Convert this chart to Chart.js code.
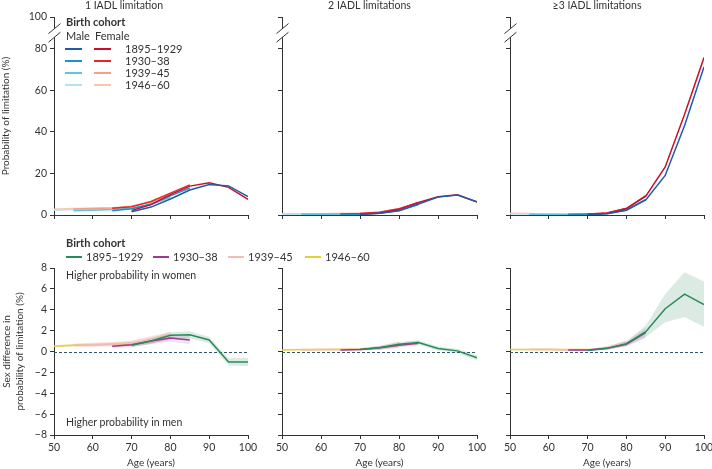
<!DOCTYPE html>
<html><head><meta charset="utf-8">
<script src="https://cdn.jsdelivr.net/npm/chart.js@4.4.1/dist/chart.umd.min.js"></script>
<style>
body{margin:0;background:#fff;width:712px;height:469px;overflow:hidden;position:relative;font-family:Lato,'Open Sans',sans-serif;color:#333}
canvas{position:absolute}
.t{position:absolute;font-size:10px;white-space:nowrap;line-height:12px;color:#333}
.b{font-weight:bold;font-size:11px}
.ln{position:absolute;height:2px}
</style></head><body>
<canvas id="c1" width="262" height="225" style="left:0;top:0"></canvas>
<canvas id="c2" width="229" height="225" style="left:262px;top:0"></canvas>
<canvas id="c3" width="228" height="225" style="left:490px;top:0"></canvas>
<canvas id="c4" width="262" height="209" style="left:0;top:260px"></canvas>
<canvas id="c5" width="229" height="209" style="left:262px;top:260px"></canvas>
<canvas id="c6" width="228" height="209" style="left:490px;top:260px"></canvas>
<div class="t" style="left:66px;top:269px;font-size:10.5px">Higher probability in women</div>
<div class="t" style="left:66px;top:416px;font-size:10.5px">Higher probability in men</div>
<script>
// ---------- labels ----------
const ages = [50,55,60,65,70,75,80,85,90,95,100];
const cohorts = ['1895–1929','1930–38','1939–45','1946–60'];
const xTicks = [50,60,70,80,90,100];
const topYTicks = [0,20,40,60,80,100];
const bottomYTicks = [-8,-6,-4,-2,0,2,4,6,8];
const panelTitles = ['1 IADL limitation','2 IADL limitations','≥3 IADL limitations'];

// ---------- top row: probability of limitation (%) ----------
// 1 IADL limitation
const one_m1895 = [null,null,null,null,1.6,3.8,7.7,12.0,14.7,14.0,8.8];
const one_f1895 = [null,null,null,null,2.2,5.0,9.8,13.9,15.5,13.3,7.5];
const one_m1930 = [null,null,null,2.0,3.0,5.3,9.2,13.0,null,null,null];
const one_f1930 = [null,null,null,3.2,4.0,6.5,10.5,14.5,null,null,null];
const one_m1939 = [null,2.0,2.3,2.6,3.2,5.0,8.5,null,null,null,null];
const one_f1939 = [null,2.9,3.1,3.4,4.2,6.2,9.8,null,null,null,null];
const one_m1946 = [2.3,2.6,2.8,3.0,3.3,null,null,null,null,null,null];
const one_f1946 = [2.8,3.1,3.2,3.4,3.8,null,null,null,null,null,null];
// 2 IADL limitations
const two_m1895 = [null,null,null,null,0.4,0.8,2.0,5.3,8.6,9.6,6.4];
const two_f1895 = [null,null,null,null,0.5,1.0,2.7,6.0,8.8,9.7,6.2];
const two_m1930 = [null,null,null,0.3,0.4,0.9,2.2,5.0,null,null,null];
const two_f1930 = [null,null,null,0.5,0.7,1.3,3.0,6.0,null,null,null];
const two_m1939 = [null,0.4,0.4,0.4,0.5,0.9,2.3,null,null,null,null];
const two_f1939 = [null,0.6,0.6,0.7,0.8,1.3,3.0,null,null,null,null];
const two_m1946 = [0.4,0.4,0.4,0.4,0.5,null,null,null,null,null,null];
const two_f1946 = [0.6,0.6,0.6,0.6,0.7,null,null,null,null,null,null];
// >=3 IADL limitations
const three_m1895 = [null,null,null,null,0.2,0.6,2.3,7.2,19.0,43.0,71.2];
const three_f1895 = [null,null,null,null,0.3,0.9,3.1,9.1,23.1,48.5,75.7];
const three_m1930 = [null,null,null,0.2,0.3,0.7,2.4,7.5,null,null,null];
const three_f1930 = [null,null,null,0.3,0.5,1.0,3.1,9.3,null,null,null];
const three_m1939 = [null,0.3,0.2,0.2,0.3,0.7,2.4,null,null,null,null];
const three_f1939 = [null,0.4,0.3,0.3,0.4,1.0,3.2,null,null,null,null];
const three_m1946 = [0.6,0.5,0.3,0.2,0.2,null,null,null,null,null,null];
const three_f1946 = [0.8,0.7,0.5,0.4,0.4,null,null,null,null,null,null];

// ---------- bottom row: sex difference (%) with 95% CI ----------
// 1 IADL
const d1_1895 = [null,null,null,null,0.6,1.0,1.55,1.6,1.1,-1.0,-1.0];
const d1_1895lo = [null,null,null,null,0.4,0.75,1.25,1.25,0.8,-1.35,-1.4];
const d1_1895hi = [null,null,null,null,0.8,1.25,1.85,1.95,1.4,-0.65,-0.6];
const d1_1930 = [null,null,null,0.5,0.65,1.0,1.3,1.1,null,null,null];
const d1_1930lo = [null,null,null,0.3,0.4,0.7,0.95,0.7,null,null,null];
const d1_1930hi = [null,null,null,0.7,0.9,1.3,1.65,1.5,null,null,null];
const d1_1939 = [null,0.6,0.65,0.7,0.8,1.1,1.5,null,null,null,null];
const d1_1939lo = [null,0.45,0.45,0.5,0.55,0.75,1.1,null,null,null,null];
const d1_1939hi = [null,0.75,0.85,0.9,1.05,1.45,1.9,null,null,null,null];
const d1_1946 = [0.5,0.6,0.65,0.7,0.75,null,null,null,null,null,null];
const d1_1946lo = [0.4,0.48,0.53,0.55,0.55,null,null,null,null,null,null];
const d1_1946hi = [0.6,0.72,0.77,0.85,0.95,null,null,null,null,null,null];
// 2 IADL
const d2_1895 = [null,null,null,null,0.2,0.35,0.7,0.86,0.29,0.06,-0.6];
const d2_1895lo = [null,null,null,null,0.1,0.2,0.5,0.65,0.1,-0.15,-0.85];
const d2_1895hi = [null,null,null,null,0.3,0.5,0.9,1.07,0.48,0.27,-0.35];
const d2_1930 = [null,null,null,0.15,0.2,0.35,0.6,0.8,null,null,null];
const d2_1930lo = [null,null,null,0.08,0.1,0.2,0.4,0.55,null,null,null];
const d2_1930hi = [null,null,null,0.22,0.3,0.5,0.8,1.05,null,null,null];
const d2_1939 = [null,0.15,0.18,0.2,0.22,0.35,0.65,null,null,null,null];
const d2_1939lo = [null,0.08,0.1,0.12,0.12,0.15,0.35,null,null,null,null];
const d2_1939hi = [null,0.22,0.26,0.28,0.32,0.55,0.95,null,null,null,null];
const d2_1946 = [0.15,0.18,0.2,0.2,0.22,null,null,null,null,null,null];
const d2_1946lo = [0.1,0.13,0.15,0.15,0.15,null,null,null,null,null,null];
const d2_1946hi = [0.2,0.23,0.25,0.25,0.29,null,null,null,null,null,null];
// >=3 IADL
const d3_1895 = [null,null,null,null,0.1,0.3,0.75,1.9,4.1,5.5,4.5];
const d3_1895lo = [null,null,null,null,0.02,0.15,0.5,1.4,2.8,3.3,2.35];
const d3_1895hi = [null,null,null,null,0.18,0.45,1.0,2.5,5.5,7.6,6.7];
const d3_1930 = [null,null,null,0.15,0.15,0.3,0.7,1.8,null,null,null];
const d3_1930lo = [null,null,null,0.07,0.06,0.18,0.5,1.3,null,null,null];
const d3_1930hi = [null,null,null,0.23,0.24,0.42,0.9,2.3,null,null,null];
const d3_1939 = [null,0.2,0.2,0.15,0.15,0.35,0.8,null,null,null,null];
const d3_1939lo = [null,0.12,0.12,0.08,0.06,0.2,0.55,null,null,null,null];
const d3_1939hi = [null,0.28,0.28,0.22,0.24,0.5,1.05,null,null,null,null];
const d3_1946 = [0.2,0.2,0.2,0.2,0.2,null,null,null,null,null,null];
const d3_1946lo = [0.15,0.15,0.15,0.15,0.14,null,null,null,null,null,null];
const d3_1946hi = [0.25,0.25,0.25,0.25,0.26,null,null,null,null,null,null];

// ---------- styles ----------
const maleColors = ['#1f5ca6','#1993cc','#5cc6dc','#b6e2ee'];
const femaleColors = ['#c8102e','#e8262a','#f4a088','#f8c6ae'];
const diffColors = ['#2a8a5a','#9a3a96','#f0bcb4','#e8cc3a'];
const bandColors = ['rgba(42,138,90,0.17)','rgba(154,58,150,0.15)','rgba(240,170,160,0.38)','rgba(232,204,58,0.28)'];
const TOP_BREAK_MAX = 95.2; // value at which the "100" tick sits on the broken axis
const AX = '#333';

Chart.defaults.font.family = 'Lato, "Open Sans", sans-serif';
Chart.defaults.font.size = 10;
Chart.defaults.color = '#333';

function pts(arr){ return ages.map((a,i)=> arr[i]==null ? null : {x:a, y:arr[i]}).filter(Boolean); }
function line(arr,color,order){ return {data:pts(arr),borderColor:color,borderWidth:1.5,pointRadius:0,fill:false,tension:0,order:order}; }

const zeroLine = {id:'zeroLine', beforeDatasetsDraw(chart){
  if(!chart.options.plugins.zeroLine || !chart.options.plugins.zeroLine.on) return;
  const {ctx,chartArea:a,scales:{y}} = chart; const py = Math.round(y.getPixelForValue(0))+0.5;
  ctx.save(); ctx.strokeStyle='#2f5566'; ctx.lineWidth=1.2; ctx.setLineDash([3,2]);
  ctx.beginPath(); ctx.moveTo(a.left,py); ctx.lineTo(a.right,py); ctx.stroke(); ctx.restore();
}};
const axisBreak = {id:'axisBreak', afterDraw(chart){
  if(!chart.options.plugins.axisBreak || !chart.options.plugins.axisBreak.on) return;
  const {ctx,chartArea:a,scales:{y}} = chart;
  const c = (y.getPixelForValue(80)+y.getPixelForValue(TOP_BREAK_MAX))/2;
  const L = a.left+0.5;
  ctx.save(); ctx.fillStyle='#fff';
  ctx.beginPath(); ctx.moveTo(L-6,c-4.3+5); ctx.lineTo(L+6,c-4.3-5); ctx.lineTo(L+6,c+4.3-5); ctx.lineTo(L-6,c+4.3+5); ctx.closePath(); ctx.fill();
  ctx.strokeStyle=AX; ctx.lineWidth=1;
  [-4.3,4.3].forEach(o=>{ctx.beginPath(); ctx.moveTo(L-6,c+o+5); ctx.lineTo(L+6,c+o-5); ctx.stroke();});
  ctx.restore();
}};

function makeChart(id, datasets, cfg){
  const isTop = cfg.top;
  const gridOpt = {display:true,drawOnChartArea:false,drawTicks:true,tickLength:4,color:AX,lineWidth:1};
  return new Chart(document.getElementById(id), {
    type:'line',
    data:{datasets},
    plugins:[zeroLine,axisBreak],
    options:{
      responsive:false, animation:false, events:[],
      layout:{padding:{left:0,right:14,top:isTop?0:8,bottom:0}},
      plugins:{
        legend:{display:false}, tooltip:{enabled:false},
        title: isTop ? {display:true,text:cfg.title,font:{size:10.5,weight:'normal',lineHeight:1.15},color:'#333',padding:{top:0,bottom:5}} : {display:false},
        zeroLine:{on:!isTop}, axisBreak:{on:isTop}
      },
      scales:{
        x:{type:'linear',min:50,max:100,
          afterBuildTicks:s=>{s.ticks = xTicks.map(v=>({value:v}));},
          afterFit:s=>{s.height = isTop?10:34; s.paddingLeft=0; s.paddingRight=0;},
          ticks:{padding:2,maxRotation:0,autoSkip:false,font:{size:10.5},callback:v=> isTop ? '' : String(v)},
          grid:gridOpt, border:{display:true,color:AX,width:1},
          title:{display:!isTop,text:'Age (years)',padding:{top:0,bottom:0},font:{size:10,lineHeight:1.2}}
        },
        y:{type:'linear',
          min: isTop?0:-8, max: isTop?TOP_BREAK_MAX:8,
          afterBuildTicks:s=>{ s.ticks = isTop ? topYTicks.map(v=>({value: v===100?TOP_BREAK_MAX:v})) : bottomYTicks.map(v=>({value:v})); },
          afterFit:s=>{s.width = cfg.first?54:20; s.paddingTop=0; s.paddingBottom=0; s.paddingLeft=0; s.paddingRight=0;},
          ticks:{padding:3,autoSkip:false,font:{size:10.5},callback:v=>{
            if(!cfg.first) return '';
            if(isTop && v===TOP_BREAK_MAX) return '100';
            return v<0 ? '−'+Math.abs(v) : String(v);
          }},
          grid:gridOpt, border:{display:true,color:AX,width:1},
          title:{display:cfg.first,
            text: isTop ? 'Probability of limitation (%)' : ['Sex difference in','probability of limitation (%)'],
            padding:{top:0,bottom:0}, font:{size:10,lineHeight:isTop?1.2:1.3}}
        }
      }
    }
  });
}

function topSets(m1946,f1946,m1939,f1939,m1930,f1930,m1895,f1895){
  return [
    line(m1895,maleColors[0],1), line(f1895,femaleColors[0],2),
    line(m1930,maleColors[1],3), line(f1930,femaleColors[1],4),
    line(m1939,maleColors[2],5), line(f1939,femaleColors[2],6),
    line(m1946,maleColors[3],7), line(f1946,femaleColors[3],8)
  ];
}
function bandPair(lo,hi,color,order){
  return [
    {data:pts(lo),borderWidth:0,pointRadius:0,fill:false,order:order},
    {data:pts(hi),borderWidth:0,pointRadius:0,fill:'-1',backgroundColor:color,order:order}
  ];
}
function bottomSets(s){
  let ds = [];
  s.forEach((c,i)=>{ ds = ds.concat(bandPair(c[1],c[2],bandColors[i],20+i)); });
  s.forEach((c,i)=>{ ds.push(line(c[0],diffColors[i],1+i)); });
  return ds;
}

makeChart('c1', topSets(one_m1946,one_f1946,one_m1939,one_f1939,one_m1930,one_f1930,one_m1895,one_f1895), {top:true,first:true,title:panelTitles[0]});
makeChart('c2', topSets(two_m1946,two_f1946,two_m1939,two_f1939,two_m1930,two_f1930,two_m1895,two_f1895), {top:true,first:false,title:panelTitles[1]});
makeChart('c3', topSets(three_m1946,three_f1946,three_m1939,three_f1939,three_m1930,three_f1930,three_m1895,three_f1895), {top:true,first:false,title:panelTitles[2]});
makeChart('c4', bottomSets([[d1_1895,d1_1895lo,d1_1895hi],[d1_1930,d1_1930lo,d1_1930hi],[d1_1939,d1_1939lo,d1_1939hi],[d1_1946,d1_1946lo,d1_1946hi]]), {top:false,first:true});
makeChart('c5', bottomSets([[d2_1895,d2_1895lo,d2_1895hi],[d2_1930,d2_1930lo,d2_1930hi],[d2_1939,d2_1939lo,d2_1939hi],[d2_1946,d2_1946lo,d2_1946hi]]), {top:false,first:false});
makeChart('c6', bottomSets([[d3_1895,d3_1895lo,d3_1895hi],[d3_1930,d3_1930lo,d3_1930hi],[d3_1939,d3_1939lo,d3_1939hi],[d3_1946,d3_1946lo,d3_1946hi]]), {top:false,first:false});

// ---------- legends (HTML) ----------
function el(cls, style, text){ const d=document.createElement('div'); d.className=cls; d.setAttribute('style',style); if(text!=null) d.textContent=text; document.body.appendChild(d); return d; }
el('t b','left:66px;top:16px','Birth cohort');
el('t','left:66px;top:30px;font-size:11px','Male');
el('t','left:95px;top:30px;font-size:11px','Female');
const rowY = [49,61,73,85];
cohorts.forEach((c,i)=>{
  el('ln',`left:65px;top:${rowY[i]-1}px;width:17px;background:${maleColors[i]}`);
  el('ln',`left:94px;top:${rowY[i]-1}px;width:17px;background:${femaleColors[i]}`);
  el('t',`left:125px;top:${rowY[i]-6}px;font-size:11px`,c);
});
el('t b','left:66px;top:237px','Birth cohort');
const legX = [66,153,228,305];
cohorts.forEach((c,i)=>{
  el('ln',`left:${legX[i]}px;top:256px;width:16px;background:${diffColors[i]}`);
  el('t',`left:${legX[i]+20}px;top:251px;font-size:11px`,c);
});
</script>
</body></html>
